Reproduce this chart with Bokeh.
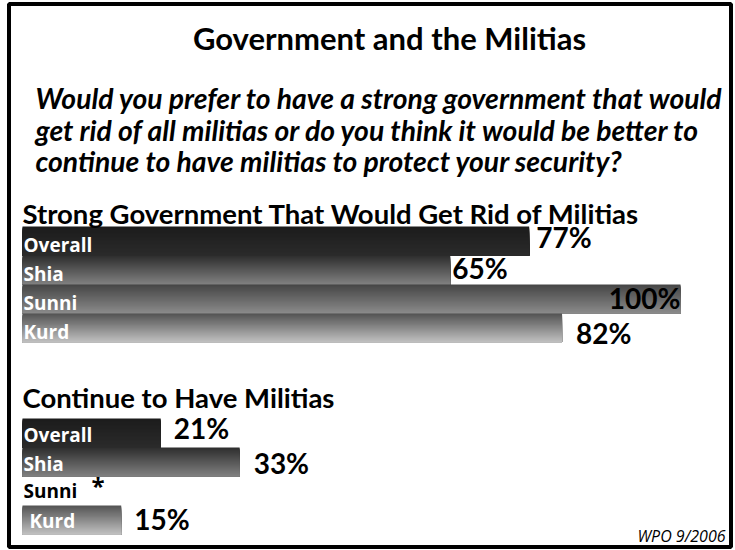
from bokeh.plotting import figure
from bokeh.models import Range1d, Label
from bokeh.embed import file_html
from bokeh.resources import INLINE
from bokeh.core.properties import value

# ---------------- data ----------------
title = "Government and the Militias"
question = [
    "Would you prefer to have a strong government that would",
    "get rid of all militias or do you think it would be better to",
    "continue to have militias to protect your security?",
]
groups = ["Overall", "Shia", "Sunni", "Kurd"]
sec1_title = "Strong Government That Would Get Rid of Militias"
sec1_values = [77, 65, 100, 82]
sec2_title = "Continue to Have Militias"
sec2_values = [21, 33, None, 15]       # None -> "*" (less than 0.5%)
source_note = "WPO 9/2006"

# ---------------- layout / style ----------------
W, H = 735, 550
PX_PER_PCT = 6.58
X0 = 22                      # pixel position of 0 %
ROW_H = 29
SEC1_TOP = 226
SEC2_TOP = 418
BASE_FIX = 0.36              # baseline correction (fraction of font size)
top_colors = ["#1c1c1c", "#2f2f2f", "#474747", "#555555"]
bot_colors = ["#2b2b2b", "#808080", "#8a8a8a", "#c0c0c0"]
sec1_dx = [7, 2, 0, 14]       # px gap between bar end and value label
sec1_dy = [21, 23, 24, 30]    # value baseline offset from row top
sec1_ldy = [25, 25, 25, 25]   # group-label baseline offset
sec1_lx = [0, 0, 0, 0]
sec2_dx = [13, 14, 0, 13]
sec2_dy = [20, 26, 0, 24]
sec2_ldy = [23, 23, 21, 22]
sec2_lx = [0, 0, 0, 6]


def px(xpix):
    return (xpix - X0) / PX_PER_PCT


def by(baseline, size):
    return baseline - BASE_FIX * size


p = figure(width=W, height=H, output_backend="svg", toolbar_location=None,
           x_range=Range1d(px(0), px(W)), y_range=Range1d(H, 0), min_border=0)
p.axis.visible = False
p.grid.visible = False
p.outline_line_color = None
p.background_fill_color = "white"

# frame border
p.quad(left=[px(8.5)], right=[px(730.5)], top=[3.5], bottom=[546.5],
       fill_color=None, line_color="black", line_width=4)


def hex2rgb(h):
    return tuple(int(h[i:i + 2], 16) for i in (1, 3, 5))


def mix(c1, c2, t):
    a, b = hex2rgb(c1), hex2rgb(c2)
    return "#%02x%02x%02x" % tuple(round(a[k] + (b[k] - a[k]) * t) for k in range(3))


def draw_section(values, sec_top, dxs, dys, ldys, lxs):
    L, R, T, B, C = [], [], [], [], []
    for i, v in enumerate(values):
        if v is None:
            continue
        top = sec_top + i * ROW_H
        n = ROW_H
        for s in range(n):
            L.append(0)
            R.append(v)
            T.append(top + s)
            B.append(top + ROW_H)
            C.append(mix(top_colors[i], bot_colors[i], s / (n - 1)))
    p.quad(left=L, right=R, top=T, bottom=B, fill_color=C, line_color=None)

    # inner group labels
    for i, g in enumerate(groups):
        top = sec_top + i * ROW_H
        color = "black" if values[i] is None else "white"
        p.text(x=[px(X0 + 1 + lxs[i])], y=[by(top + ldys[i], 19)], text=[g],
               text_color=color, text_font=value("Open Sans"), text_font_style="bold",
               text_font_size="19px", text_baseline="alphabetic")
        if values[i] is None:
            p.text(x=[px(X0 + 69)], y=[by(top + ldys[i] - 3, 24)], text=["*"],
                   text_color="black", text_font=value("Open Sans"),
                   text_font_style="bold", text_font_size="24px",
                   text_baseline="alphabetic")

    # value labels
    for i, v in enumerate(values):
        if v is None:
            continue
        top = sec_top + i * ROW_H
        inside = v >= 100
        p.text(x=[v if inside else v + dxs[i] / PX_PER_PCT], y=[by(top + dys[i], 28)],
               text=[f"{v}%"], text_color="black", text_font=value("Lato"),
               text_font_style="bold", text_font_size="28px",
               text_align="right" if inside else "left",
               text_baseline="alphabetic")


draw_section(sec1_values, SEC1_TOP, sec1_dx, sec1_dy, sec1_ldy, sec1_lx)
draw_section(sec2_values, SEC2_TOP, sec2_dx, sec2_dy, sec2_ldy, sec2_lx)

p.add_layout(Label(x=389, x_units="screen", y=by(49, 31), y_units="data", text=title,
                   text_color="black", text_font="Lato", text_font_style="bold",
                   text_font_size="31px", text_align="center",
                   text_baseline="alphabetic"))
for k, line in enumerate(question):
    p.add_layout(Label(x=35, x_units="screen", y=by(108 + 31.5 * k, 28.3), y_units="data",
                       text=line, text_color="black", text_font="Lato",
                       text_font_style="bold italic", text_font_size="28.3px",
                       text_baseline="alphabetic"))
p.add_layout(Label(x=22, x_units="screen", y=by(223, 27.5), y_units="data", text=sec1_title,
                   text_color="black", text_font="Lato", text_font_style="bold",
                   text_font_size="27.5px", text_baseline="alphabetic"))
p.add_layout(Label(x=22, x_units="screen", y=by(407, 27.5), y_units="data", text=sec2_title,
                   text_color="black", text_font="Lato", text_font_style="bold",
                   text_font_size="27.5px", text_baseline="alphabetic"))
p.add_layout(Label(x=725, x_units="screen", y=by(541, 16), y_units="data", text=source_note,
                   text_color="black", text_font="Open Sans", text_font_style="italic",
                   text_font_size="16px", text_align="right",
                   text_baseline="alphabetic"))

open("out.html", "w").write(file_html(p, INLINE))
